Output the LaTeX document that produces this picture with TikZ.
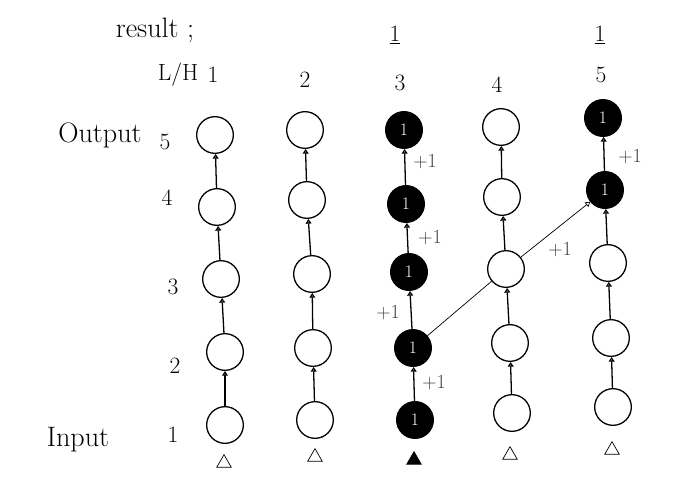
\documentclass[tikz,border=0pt]{standalone}
\usetikzlibrary{arrows.meta,shapes.geometric}

\begin{document}
\begin{tikzpicture}[
        x=0.03cm, y=-0.03cm,
        cell/.style={
            circle,
            draw,
            line width=1.1pt,
            minimum size=1.1cm,
            inner sep=0pt,
            font=\fontsize{15}{17}\selectfont
        },
        oncell/.style={
            cell,
            fill=black,
            text=white
        },
        marker/.style={
            regular polygon,
            regular polygon sides=3,
            draw,
            semithick,
            minimum size=0.5cm,
            inner sep=0pt
        },
        label/.style={font=\fontsize{20}{24}\selectfont},
        bigtext/.style={font=\fontsize{24}{28}\selectfont},
        plus/.style={font=\fontsize{17}{20}\selectfont, text=black!75},
        arrow/.style={-{Triangle[open,length=4pt,width=5pt]}, line width=1.1pt}
    ]

        \useasboundingbox (0,0) rectangle (687,501);

        % headings
        \node[bigtext] (res) at (155,30) {result ;};
        \node[label] (res3) at (395,35) {\underline{1}};
        \node[label] (res5) at (600,35) {\underline{1}};
        \node[label] (lh) at (178,75) {L/H};
        \node[label] (h1) at (213,75) {1};
        \node[label] (h2) at (305,80) {2};
        \node[label] (h3) at (400,83) {3};
        \node[label] (h4) at (497,85) {4};
        \node[label] (h5) at (601,75) {5};

        % rows
        \node[bigtext] (out) at (100,135) {Output};
        \node[bigtext] (in) at (78,440) {Input};
        \node[label] (r5) at (165,142) {5};
        \node[label] (r4) at (167,198) {4};
        \node[label] (r3) at (173,287) {3};
        \node[label] (r2) at (175,366) {2};
        \node[label] (r1) at (173,435) {1};

        % column 1
        \node[cell] (c1r1) at (225,425) {};
        \node[cell] (c1r2) at (225,352) {};
        \node[cell] (c1r3) at (221,279) {};
        \node[cell] (c1r4) at (217,207) {};
        \node[cell] (c1r5) at (215,135) {};
        % column 2
        \node[cell] (c2r1) at (315,420) {};
        \node[cell] (c2r2) at (313,348) {};
        \node[cell] (c2r3) at (312,274) {};
        \node[cell] (c2r4) at (307,200) {};
        \node[cell] (c2r5) at (305,130) {};
        % column 3
        \node[oncell] (c3r1) at (415,420) {1};
        \node[oncell] (c3r2) at (413,348) {1};
        \node[oncell] (c3r3) at (409,272) {1};
        \node[oncell] (c3r4) at (406,204) {1};
        \node[oncell] (c3r5) at (404,130) {1};
        % column 4
        \node[cell] (c4r1) at (512,413) {};
        \node[cell] (c4r2) at (510,343) {};
        \node[cell] (c4r3) at (506,269) {};
        \node[cell] (c4r4) at (502,197) {};
        \node[cell] (c4r5) at (501,127) {};
        % column 5
        \node[cell] (c5r1) at (613,407) {};
        \node[cell] (c5r2) at (611,338) {};
        \node[cell] (c5r3) at (608,263) {};
        \node[oncell] (c5r4) at (605,190) {1};
        \node[oncell] (c5r5) at (603,118) {1};

        % markers
        \node[marker] (t1) at (224,463) {};
        \node[marker] (t2) at (315,457) {};
        \node[marker, fill=black] (t3) at (414,460) {};
        \node[marker] (t4) at (510,455) {};
        \node[marker] (t5) at (612,450) {};

        % vertical links
        \draw[arrow] (c1r1) -- (c1r2);
        \draw[arrow] (c1r2) -- (c1r3);
        \draw[arrow] (c1r3) -- (c1r4);
        \draw[arrow] (c1r4) -- (c1r5);
        \draw[arrow] (c2r1) -- (c2r2);
        \draw[arrow] (c2r2) -- (c2r3);
        \draw[arrow] (c2r3) -- (c2r4);
        \draw[arrow] (c2r4) -- (c2r5);
        \draw[arrow] (c3r1) -- (c3r2);
        \draw[arrow] (c3r2) -- (c3r3);
        \draw[arrow] (c3r3) -- (c3r4);
        \draw[arrow] (c3r4) -- (c3r5);
        \draw[arrow] (c4r1) -- (c4r2);
        \draw[arrow] (c4r2) -- (c4r3);
        \draw[arrow] (c4r3) -- (c4r4);
        \draw[arrow] (c4r4) -- (c4r5);
        \draw[arrow] (c5r1) -- (c5r2);
        \draw[arrow] (c5r2) -- (c5r3);
        \draw[arrow] (c5r3) -- (c5r4);
        \draw[arrow] (c5r4) -- (c5r5);

        % diagonal link
        \draw[semithick] (c3r2) -- (c4r3);
        \draw[arrow, semithick] (c4r3) -- (c5r4);

        % increments
        \node[plus] (p1) at (434,383) {+1};
        \node[plus] (p2) at (388,313) {+1};
        \node[plus] (p3) at (430,238) {+1};
        \node[plus] (p4) at (425,162) {+1};
        \node[plus] (p5) at (560,250) {+1};
        \node[plus] (p6) at (630,157) {+1};

    \end{tikzpicture}
\end{document}
